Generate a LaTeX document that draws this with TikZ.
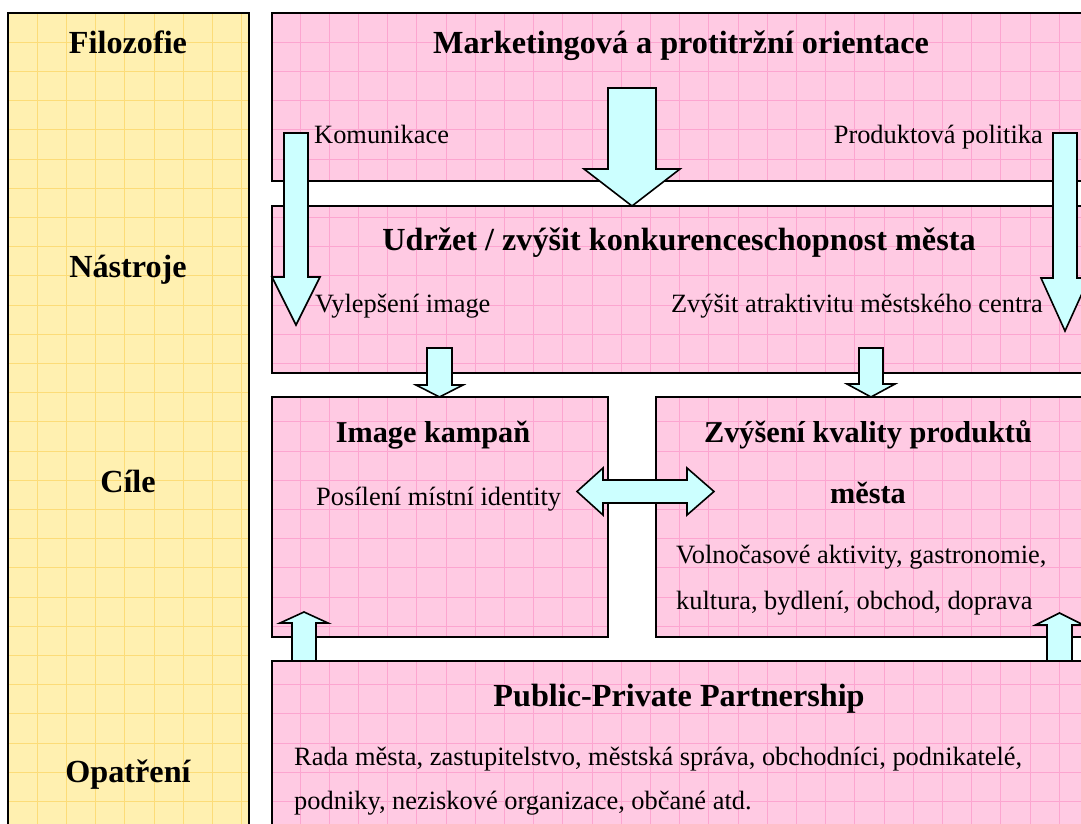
\documentclass[tikz,border=0pt]{standalone}
\usepackage{fontspec}
\setmainfont{Liberation Serif}
\definecolor{sideyellow}{RGB}{255,240,176}
\definecolor{sidegrid}{RGB}{252,220,120}
\definecolor{panelpink}{RGB}{255,202,227}
\definecolor{panelgrid}{RGB}{252,165,208}
\definecolor{arrowcyan}{RGB}{204,255,255}
\tikzset{
  outline/.style={draw=black, line width=1.6pt},
  barrow/.style={draw=black, line width=1.6pt, fill=arrowcyan, line join=miter},
  headtxt/.style={font=\bfseries\fontsize{32.2}{37}\selectfont, inner sep=0pt, anchor=base},
  goaltxt/.style={font=\bfseries\fontsize{30.3}{35}\selectfont, inner sep=0pt, anchor=base},
  bodytxt/.style={font=\fontsize{26.4}{31}\selectfont, inner sep=0pt, anchor=base west},
}
% filled panel with a squared grid and a black frame
\newcommand\gridpanel[6]{%
  \fill[#5] (#1,#2) rectangle (#3,#4);
  \begin{scope}
    \clip (#1,#2) rectangle (#3,#4);
    \foreach \k in {0,...,37} \draw[#6, line width=0.8pt] ({8+29.2*\k},0) -- ({8+29.2*\k},830);
    \foreach \k in {0,...,28} \draw[#6, line width=0.8pt] (0,{13+29.2*\k}) -- (1090,{13+29.2*\k});
  \end{scope}
  \draw[outline] (#1,#2) rectangle (#3,#4);
}
% block arrow: centre x, tail y, head base y, tip y, half shaft, half head
\newcommand\blockarrow[6]{%
  \draw[barrow] ({#1-#5},#2) -- ({#1+#5},#2) -- ({#1+#5},#3) -- ({#1+#6},#3)
    -- (#1,#4) -- ({#1-#6},#3) -- ({#1-#5},#3) -- cycle;
}
\begin{document}
\begin{tikzpicture}[x=1pt,y=-1pt]
\useasboundingbox (0,0) rectangle (1081,824);
\clip (0,0) rectangle (1081,824);
\fill[white] (0,0) rectangle (1081,824);

% left column of levels
\gridpanel{8}{13}{249}{840}{sideyellow}{sidegrid}
% right panels
\gridpanel{272}{13}{1095}{181}{panelpink}{panelgrid}
\gridpanel{272}{206}{1095}{373}{panelpink}{panelgrid}
\gridpanel{272}{397}{608}{637}{panelpink}{panelgrid}
\gridpanel{656}{397}{1095}{637}{panelpink}{panelgrid}
\gridpanel{272}{661}{1095}{840}{panelpink}{panelgrid}

% level names
\node[headtxt] (filozofie) at (128,54) {Filozofie};
\node[headtxt] (nastroje) at (128,277) {Nástroje};
\node[headtxt] (cile) at (128,492) {Cíle};
\node[headtxt] (opatreni) at (128,782) {Opatření};

% arrows
\blockarrow{632}{88}{169}{206}{24}{48}
\blockarrow{296}{133}{277}{325}{12}{24}
\blockarrow{1065}{133}{278}{331}{12}{24}
\blockarrow{439.5}{348}{385}{397}{12.5}{23.5}
\blockarrow{871}{348}{384}{397}{12}{24}
\blockarrow{304}{661}{623}{612}{12}{24}
\blockarrow{1059.5}{661}{625}{613}{12.5}{24}
\draw[barrow] (577,491.5) -- (603,468) -- (603,480) -- (687,480) -- (687,468)
  -- (714,491.5) -- (687,515) -- (687,503) -- (603,503) -- (603,515) -- cycle;

% panel texts
\node[headtxt] (marketing) at (681,54) {Marketingová a protitržní orientace};
\node[bodytxt] (komunikace) at (314,143) {Komunikace};
\node[bodytxt, anchor=base east] (produkt) at (1043,143) {Produktová politika};
\node[headtxt] (udrzet) at (679,250) {Udržet / zvýšit konkurenceschopnost města};
\node[bodytxt] (image) at (315,312) {Vylepšení image};
\node[bodytxt, anchor=base east] (atrakt) at (1043,312) {Zvýšit atraktivitu městského centra};
\node[goaltxt] (kampan) at (433,442) {Image kampaň};
\node[bodytxt] (identita) at (316,505) {Posílení místní identity};
\node[goaltxt] (kvalita) at (868,442) {Zvýšení kvality produktů};
\node[goaltxt] (mesta) at (868,503) {města};
\node[bodytxt] (volno) at (676,563) {Volnočasové aktivity, gastronomie,};
\node[bodytxt] (kultura) at (676,609) {kultura, bydlení, obchod, doprava};
\node[headtxt] (ppp) at (679,706) {Public-Private Partnership};
\node[bodytxt] (rada) at (294,765) {Rada města, zastupitelstvo, městská správa, obchodníci, podnikatelé,};
\node[bodytxt] (podniky) at (294,809) {podniky, neziskové organizace, občané atd.};
\end{tikzpicture}
\end{document}
